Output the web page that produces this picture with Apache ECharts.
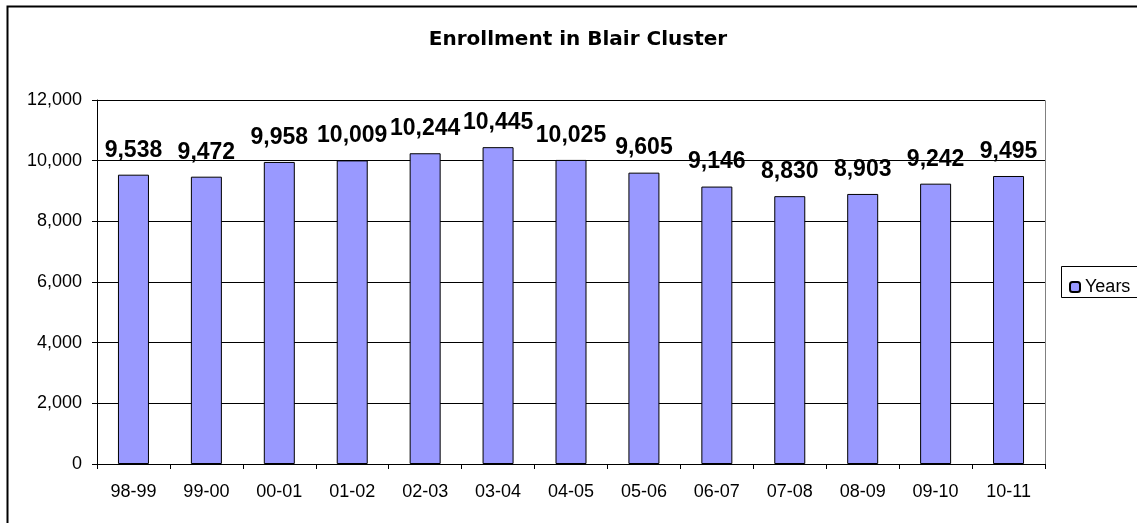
<!DOCTYPE html>
<html><head><meta charset="utf-8">
<script src="https://cdn.jsdelivr.net/npm/echarts@6/dist/echarts.min.js"></script>
<style>html,body{margin:0;padding:0;background:#fff}#c{width:1137px;height:523px}</style>
</head><body><div id="c"></div>
<script>
const categories = ['98-99','99-00','00-01','01-02','02-03','03-04','04-05','05-06','06-07','07-08','08-09','09-10','10-11'];
const years = [9538,9472,9958,10009,10244,10445,10025,9605,9146,8830,8903,9242,9495];
const seriesName = 'Years';
const titleText = 'Enrollment in Blair Cluster';

const chart = echarts.init(document.getElementById('c'), null, {renderer:'canvas'});
const F = '"Liberation Sans", Arial, sans-serif';
chart.setOption({
  animation:false,
  graphic:[
    {type:'rect', shape:{x:7.5,y:6.5,width:1200,height:600}, style:{fill:'none',stroke:'#000',lineWidth:2}, z:-10},
    {type:'rect', shape:{x:97.5,y:100.5,width:948,height:364}, style:{fill:'none',stroke:'#808080',lineWidth:1}, z:-5},
    {type:'rect', shape:{x:1061.5,y:266.5,width:90,height:31}, style:{fill:'#fff',stroke:'#000',lineWidth:1}, z:5}
  ],
  title:{text:titleText, left:573, top:25, textAlign:'center',
    textStyle:{fontFamily:'"DejaVu Sans", sans-serif',fontSize:20,fontWeight:'bold',color:'#000'}},
  legend:{data:[seriesName], left:1064, top:273, itemWidth:10, itemHeight:10, itemGap:4, z:10,
    textStyle:{fontFamily:F,fontSize:18,color:'#000',padding:[0,0,0,0]}},
  grid:{left:97, right:92, top:100, bottom:59, containLabel:false},
  xAxis:{type:'category', data:categories,
    axisLine:{lineStyle:{color:'#000',width:1}},
    axisTick:{show:true,length:5,inside:false,alignWithLabel:false,lineStyle:{color:'#000'}},
    axisLabel:{fontFamily:F,fontSize:18,color:'#000',margin:19},
    splitLine:{show:false}},
  yAxis:{type:'value', min:0, max:12000, interval:2000,
    axisLine:{show:true,lineStyle:{color:'#000'}},
    axisTick:{show:true,length:5,lineStyle:{color:'#000'}},
    axisLabel:{fontFamily:F,fontSize:18,color:'#000',margin:15,
      formatter:v=>v.toLocaleString('en-US')},
    splitLine:{show:true,lineStyle:{color:'#000',width:1}}},
  series:[{name:seriesName,type:'bar',data:years,barWidth:31,
    itemStyle:{color:'#9999FF',borderColor:'#000',borderWidth:1},
    label:{show:true,position:'top',distance:13,fontFamily:F,fontSize:23,fontWeight:'bold',color:'#000',
      formatter:p=>p.value.toLocaleString('en-US')}}]
});
</script></body></html>
